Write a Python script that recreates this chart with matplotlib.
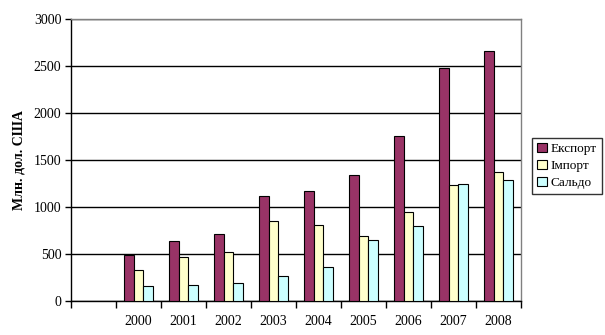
import numpy as np
import matplotlib
matplotlib.use("Agg")
import matplotlib.pyplot as plt

years = ["2000", "2001", "2002", "2003", "2004", "2005", "2006", "2007", "2008"]
export_vals = [490, 638, 713, 1117, 1168, 1340, 1752, 2475, 2660]
import_vals = [330, 468, 521, 849, 806, 691, 945, 1232, 1369]
saldo_vals = [160, 170, 191, 263, 362, 645, 796, 1242, 1285]
series_names = ["Експорт", "Імпорт", "Сальдо"]

plt.rcParams["font.family"] = ["Liberation Serif", "DejaVu Serif"]

fig = plt.figure(figsize=(6.05, 3.35), dpi=100)
ax = fig.add_axes([71 / 605, 34 / 335, 450 / 605, 282 / 335])

x = np.arange(len(years))
w = 0.222
colors = ["#993366", "#FFFFCC", "#CCFFFF"]
for i, (vals, name, c) in enumerate(zip([export_vals, import_vals, saldo_vals], series_names, colors)):
    ax.bar(x + (i - 1) * w, vals, width=w, color=c, edgecolor="black", linewidth=0.8,
           label=name, zorder=3)

ax.set_xlim(-1.5, len(years) - 0.5)
ax.set_ylim(0, 3000)
ax.set_yticks(np.arange(0, 3001, 500))
ax.yaxis.grid(True, color="black", linewidth=1.0, zorder=0)
ax.set_axisbelow(True)

# category boundaries carry the tick marks, labels sit at category centres
ax.set_xticks(np.arange(-1.5, len(years), 1.0))
ax.set_xticklabels([])
ax.set_xticks(x, minor=True)
ax.set_xticklabels(years, minor=True)
ax.tick_params(axis="x", which="major", length=5, width=1, direction="out", color="black")
ax.tick_params(axis="x", which="minor", length=0, pad=10, labelsize=10)
ax.tick_params(axis="y", length=4, width=1, direction="out", labelsize=10, pad=3)

for side in ["top", "right"]:
    ax.spines[side].set_color("#808080")
    ax.spines[side].set_linewidth(1.0)
for side in ["left", "bottom"]:
    ax.spines[side].set_color("black")
    ax.spines[side].set_linewidth(1.0)

ax.set_ylabel("Млн. дол. США", fontsize=10, fontweight="bold", labelpad=6)

leg = ax.legend(loc="center left", bbox_to_anchor=(532 / 605, 169 / 335),
                bbox_transform=fig.transFigure, frameon=True, fancybox=False,
                fontsize=9.5, handlelength=0.7, handleheight=0.7, handletextpad=0.3,
                borderpad=0.4, labelspacing=0.35, borderaxespad=0)
leg.get_frame().set_edgecolor("black")
leg.get_frame().set_linewidth(1.0)

fig.savefig("out.png", dpi=100)
